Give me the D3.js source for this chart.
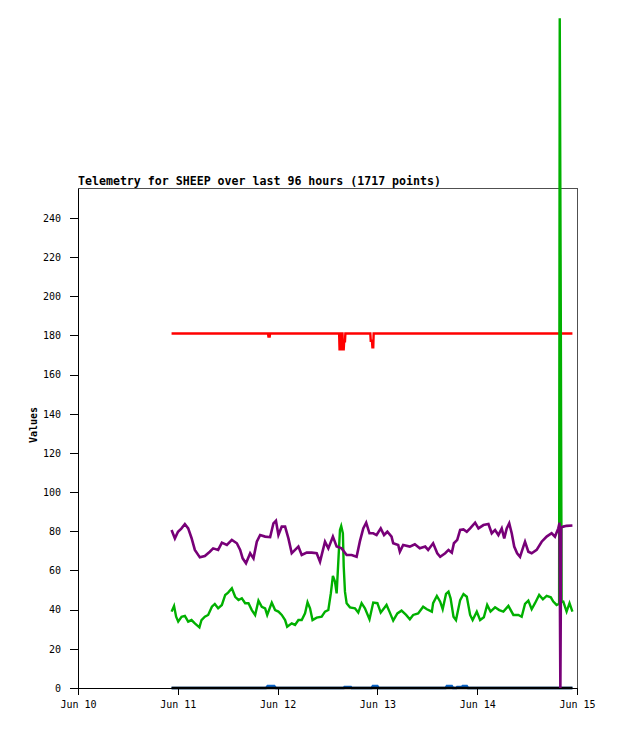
<!DOCTYPE html>
<html>
<head>
<meta charset="utf-8">
<script src="https://cdn.jsdelivr.net/npm/d3@7"></script>
<style>
  body { margin: 0; background: #fff; }
  svg { display: block; }
</style>
</head>
<body>
<div id="chart"></div>
<script>
// hours after Jun 10 00:00, value
var titleText = 'Telemetry for SHEEP over last 96 hours (1717 points)'
var yLabel = 'Values'
var dayTicks = ['Jun 10', 'Jun 11', 'Jun 12', 'Jun 13', 'Jun 14', 'Jun 15']
var valueTicks = [0, 20, 40, 60, 80, 100, 120, 140, 160, 180, 200, 220, 240]

var blackSeries = [[22.5, 0], [118.9, 0]]

var blueSeries = [
  [22.5, 0], [45.2, 0], [45.6, 1], [47.2, 1], [47.6, 0], [63.9, 0], [64.1, 0.6], [65.6, 0.6], [65.8, 0],
  [70.6, 0], [70.9, 1], [72.0, 1], [72.3, 0], [88.4, 0], [88.7, 1], [89.9, 1], [90.2, 0], [91.0, 0],
  [91.2, 0.6], [92.3, 0.6], [92.5, 1], [93.5, 1], [93.8, 0], [118.9, 0]
]

var redSeries = [
  [22.5, 181], [45.7, 181], [45.8, 179.5], [46.1, 179.5], [46.2, 181], [62.8, 181], [62.9, 173],
  [63.2, 173], [63.3, 181], [63.6, 181], [63.7, 173], [63.9, 173], [64.0, 177], [64.2, 177], [64.3, 181],
  [70.3, 181], [70.4, 177.3], [70.7, 177.3], [70.8, 174], [71.0, 174], [71.1, 181], [118.9, 181]
]

var greenSeries = [
  [22.5, 39], [23.1, 41.9], [23.6, 36.4], [24.1, 33.9], [24.9, 36.4], [25.7, 36.8], [26.5, 33.9],
  [27.3, 34.7], [28.1, 33], [29.2, 31], [29.7, 34.7], [30.5, 36.4], [31.3, 37.3], [32.2, 41.5],
  [32.9, 42.9], [33.7, 40.7], [34.6, 42.4], [35.4, 47.5], [36.1, 48.7], [37.0, 50.9], [37.8, 46.6],
  [38.6, 44.9], [39.4, 45.8], [40.2, 43.3], [41.0, 43.3], [41.8, 39.8], [42.6, 37.3], [43.4, 44.6],
  [44.2, 41.5], [45.0, 40.7], [45.5, 37.3], [46.6, 43.6], [47.4, 39.8], [48.2, 39], [49.0, 37.3],
  [49.8, 34.7], [50.3, 31.3], [51.4, 33], [52.2, 32.2], [53.0, 34.7], [53.8, 34.7], [54.6, 38.1],
  [55.2, 43.8], [55.8, 40.7], [56.4, 34.7], [57.4, 35.9], [58.6, 36.4], [59.4, 39], [60.2, 39.8],
  [60.8, 48.3], [61.3, 57.2], [61.8, 54.3], [62.2, 48.3], [62.6, 64.5], [63.0, 80.7], [63.3, 82.7],
  [63.7, 79], [63.9, 62], [64.2, 49.2], [64.6, 43.3], [65.4, 41.2], [66.6, 40.7], [67.4, 38.5],
  [68.2, 43.3], [69.0, 40.7], [70.1, 35.1], [71.0, 43.6], [72.0, 43.3], [72.8, 38.5], [73.6, 40.7],
  [74.2, 42.4], [74.9, 39], [75.8, 34.4], [76.8, 38.1], [77.8, 39.5], [78.9, 37.3], [79.8, 35.1],
  [80.6, 37.3], [81.8, 38.1], [83.0, 41.5], [83.9, 40.2], [85.1, 39], [85.4, 43.3], [86.3, 47],
  [87.1, 44.1], [87.7, 40.2], [88.5, 48], [89.1, 49.2], [89.6, 45.8], [90.3, 36.4], [90.9, 34.7],
  [91.9, 44.9], [92.7, 48], [93.5, 46.6], [94.3, 37.3], [94.9, 34.7], [95.9, 39], [96.7, 34.7],
  [97.6, 36.1], [98.4, 42.4], [99.2, 39], [100.3, 41.2], [101.3, 39.8], [102.3, 39], [103.5, 41.9],
  [104.7, 37.3], [105.9, 37.3], [106.7, 36.4], [107.5, 42.9], [108.3, 44.6], [109.1, 40.2],
  [109.9, 43.3], [110.9, 47.5], [111.8, 45.3], [112.7, 47], [113.7, 46.3], [114.3, 44.1],
  [115.1, 42.4], [115.7, 43], [115.85, 342], [116.1, 192], [116.3, 44], [116.7, 44.1], [117.5, 39],
  [118.2, 43.3], [118.9, 39]
]

var purpleSeries = [
  [22.5, 80.7], [23.3, 76.4], [24.05, 79.8], [24.9, 81.5], [25.7, 83.7], [26.5, 81.5], [27.3, 76.6],
  [28.1, 70.5], [29.3, 66.7], [30.5, 67.4], [31.7, 69.6], [32.5, 71.3], [33.7, 70.5], [34.6, 74.2],
  [35.8, 73], [37.0, 75.6], [38.2, 73.9], [39.0, 70.5], [39.6, 66.2], [40.4, 63.7], [41.4, 68.8],
  [42.2, 66.2], [43.0, 74.7], [43.8, 78.1], [45.0, 77.3], [46.2, 77], [47.0, 84.1], [47.6, 85.4],
  [48.2, 78.1], [49.0, 82.4], [49.8, 82.4], [50.6, 76.4], [51.4, 68.8], [52.2, 70.5], [53.0, 72.2],
  [53.8, 67.9], [55.0, 69.1], [56.2, 69.1], [57.4, 68.8], [58.2, 64.5], [59.4, 74.7], [60.2, 71.3],
  [61.3, 77.3], [62.2, 72.2], [63.4, 71.3], [64.6, 67.9], [65.8, 67.9], [67.0, 67.0], [67.8, 75],
  [68.6, 81.5], [69.3, 84.4], [70.1, 79], [71.0, 79], [71.8, 78.1], [72.8, 81.5], [73.6, 78.1],
  [74.4, 79.8], [75.4, 77.3], [75.8, 73.9], [77.0, 73], [77.4, 69.6], [78.2, 73], [79.8, 72.2],
  [81.0, 73.4], [82.2, 71.3], [83.5, 72.2], [84.2, 70.5], [85.4, 73.9], [86.4, 68.8], [87.1, 67],
  [88.3, 68.8], [89.1, 70.5], [89.9, 69.1], [90.4, 73.9], [91.2, 75.6], [91.9, 80.7], [92.7, 81],
  [93.5, 79.8], [94.3, 81.5], [95.5, 84.4], [96.3, 81.5], [97.5, 83.2], [98.7, 83.7], [99.5, 79],
  [100.3, 80.7], [101.1, 78.1], [101.9, 81.5], [102.5, 76.4], [103.1, 81.5], [103.7, 84.1],
  [104.3, 79], [104.9, 72.2], [105.6, 68.8], [106.3, 67], [107.1, 72.2], [107.5, 74.7], [108.3, 69.6],
  [109.1, 68.8], [110.3, 70.5], [111.5, 74.7], [112.7, 77.3], [113.9, 79], [114.7, 77.3],
  [115.5, 81.5], [115.8, 84.4], [116.0, 0], [116.2, 82], [116.7, 82.4], [117.5, 82.8], [118.9, 83]
]

var seriesList = [
  { data: blueSeries, color: '#0a64c8', width: 2.4 },
  { data: blackSeries, color: '#000000', width: 2.5 },
  { data: redSeries, color: '#ff0000', width: 2.4 },
  { data: greenSeries, color: '#00b000', width: 2.4 },
  { data: purpleSeries, color: '#780078', width: 2.6 }
]

var width = 618
var height = 729
var margin = { left: 78, right: 41, top: 188, bottom: 41 }
var baseTime = Date.UTC(2010, 5, 10)
var mono = '"DejaVu Sans Mono", "Liberation Mono", monospace'

var toDate = function(h) { return new Date(baseTime + h * 3600 * 1000) }

function go () {
  var svg = d3.select('#chart').append('svg').attr('width', width).attr('height', height)

  var x = d3.scaleUtc()
    .domain([toDate(0), toDate(120)])
    .range([margin.left, width - margin.right])
  var y = d3.scaleLinear()
    .domain([0, 255.3])
    .range([height - margin.bottom, margin.top])

  // frame: grey top and right, black axes drawn later
  svg.append('path')
    .attr('d', 'M' + x.range()[0] + ',' + (y.range()[1] + 0.5) + 'H' + (x.range()[1] + 0.5) + 'V' + y.range()[0])
    .style('fill', 'none').style('stroke', '#505050').style('stroke-width', 1)
    .style('shape-rendering', 'crispEdges')

  var line = d3.line()
    .x(function(d) { return x(toDate(d[0])) })
    .y(function(d) { return y(d[1]) })

  seriesList.forEach(function(s) {
    svg.append('path')
      .datum(s.data)
      .attr('d', line)
      .style('fill', 'none')
      .style('stroke', s.color)
      .style('stroke-width', s.width)
      .style('stroke-linejoin', 'miter')
  })

  var xAxis = d3.axisBottom(x)
    .tickValues(dayTicks.map(function(t, i) { return toDate(i * 24) }))
    .tickFormat(function(d, i) { return dayTicks[i] })
    .tickSize(7).tickSizeOuter(0).tickPadding(6)
  svg.append('g')
    .attr('transform', 'translate(0,' + y.range()[0] + ')')
    .call(xAxis)

  var yAxis = d3.axisLeft(y)
    .tickValues(valueTicks)
    .tickSize(8).tickSizeOuter(0).tickPadding(9)
  svg.append('g')
    .attr('transform', 'translate(' + x.range()[0] + ',0)')
    .call(yAxis)

  svg.selectAll('.domain, .tick line')
    .style('stroke', '#000').style('shape-rendering', 'crispEdges')
  svg.selectAll('.tick text')
    .style('font-family', mono).style('font-size', '10px').style('fill', '#000')

  svg.append('text')
    .attr('x', margin.left)
    .attr('y', margin.top - 3)
    .style('font-family', mono)
    .style('font-weight', 'bold')
    .style('font-size', '11.6px')
    .text(titleText)

  svg.append('text')
    .attr('transform', 'translate(37,425) rotate(-90)')
    .attr('text-anchor', 'middle')
    .style('font-family', mono)
    .style('font-weight', 'bold')
    .style('font-size', '10px')
    .text(yLabel)
}

document.addEventListener('DOMContentLoaded', go)
</script>
</body>
</html>
